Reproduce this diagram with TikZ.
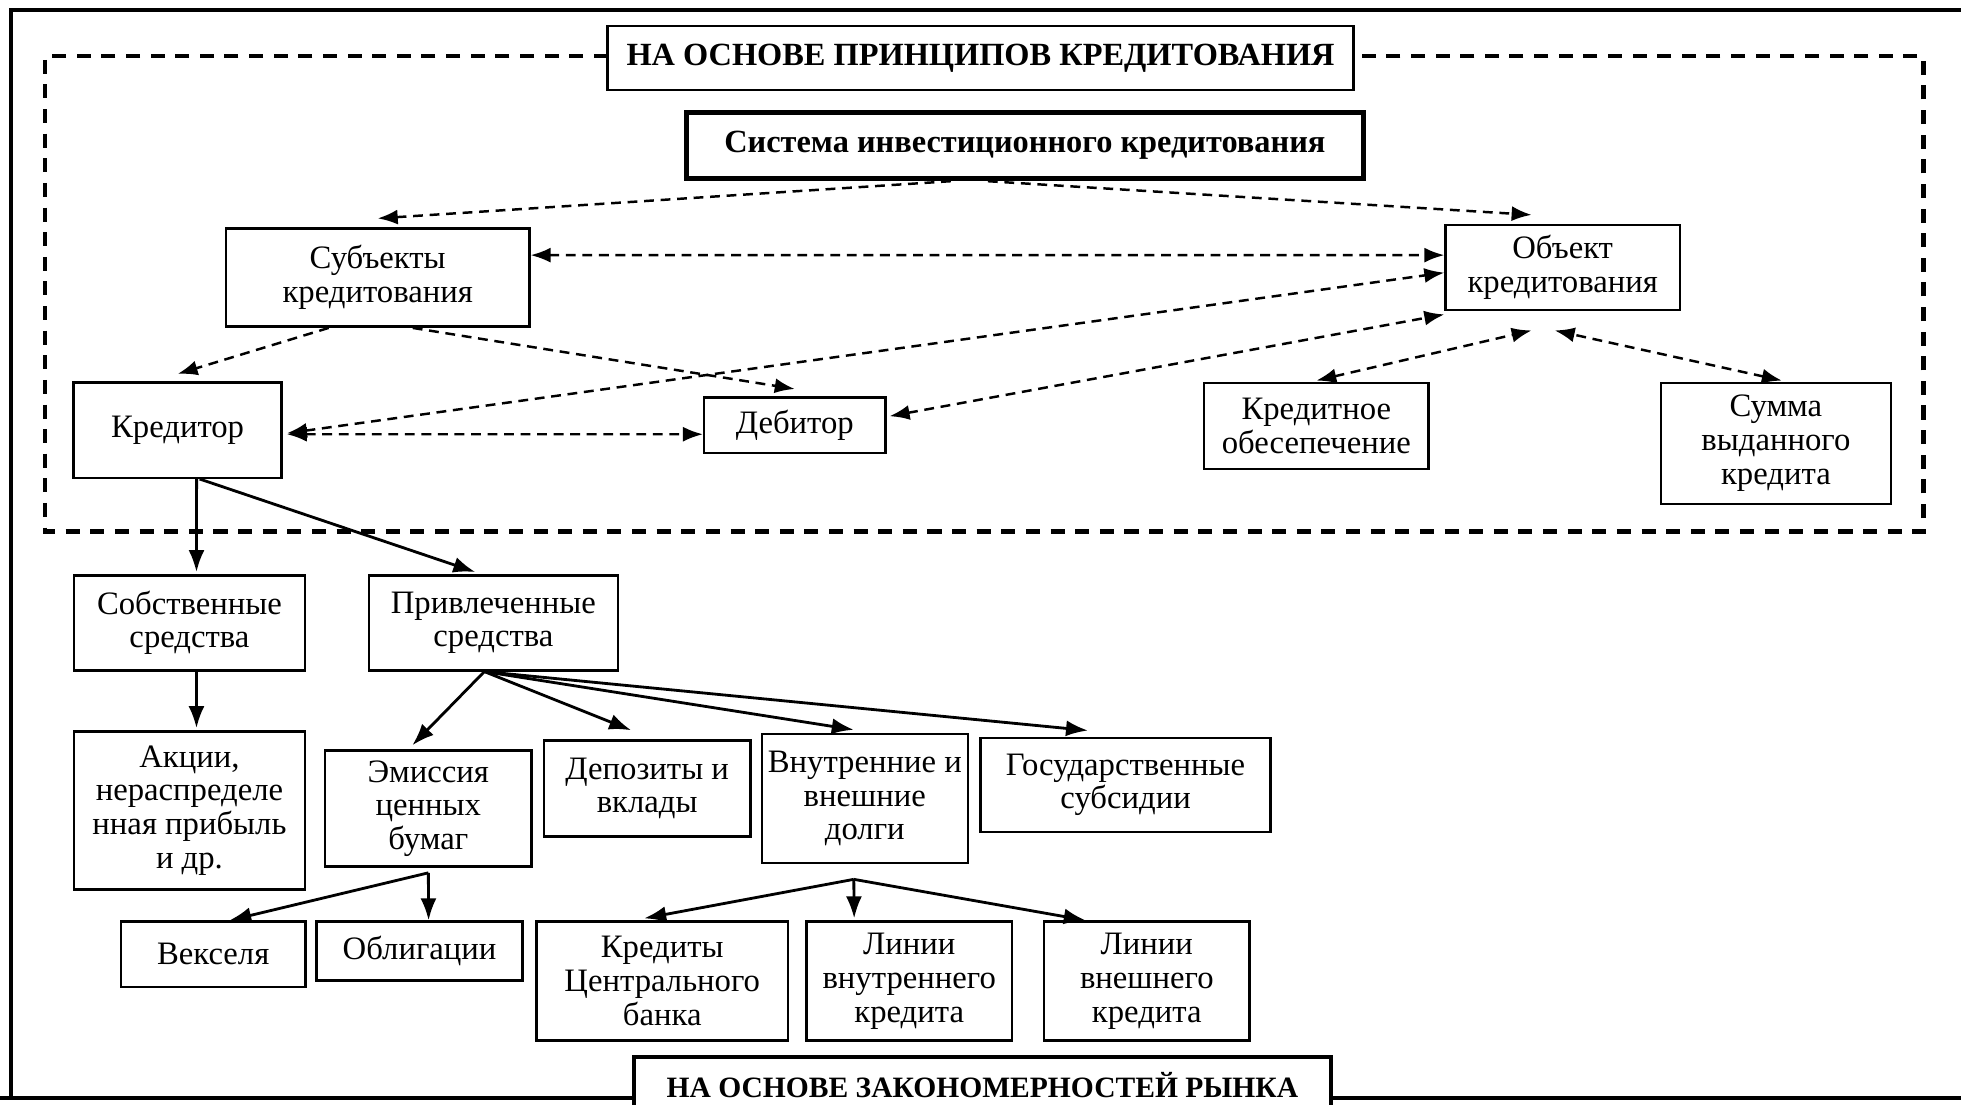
\documentclass[tikz,border=0pt]{standalone}
\usepackage{fontspec}
\setmainfont{Liberation Serif}
\usetikzlibrary{arrows.meta}

\begin{document}
\begin{tikzpicture}[x=0.0125cm, y=-0.0125cm,
    every node/.style = {font=\fontsize{9.3}{9.6}\selectfont, align=center, inner sep=1pt},
    box/.style = {draw, line width=0.7pt},
    headbox/.style = {box, font=\fontsize{9.2}{9.6}\selectfont\bfseries},
    frame/.style = {line width=1pt},
    zone/.style = {line width=1.2pt, dash pattern=on 4pt off 3pt},
    link/.style = {line width=0.7pt, dash pattern=on 2.8pt off 1.9pt,
                   -{Latex[length=2mm, width=1.5mm]}},
    twoway/.style = {link, {Latex[length=2mm, width=1.5mm]}-{Latex[length=2mm, width=1.5mm]}},
    flow/.style = {line width=0.8pt, -{Latex[length=2.2mm, width=1.6mm]}}]
  \useasboundingbox (0,0) rectangle (1568,883);

  % outer frame
  \draw[frame] (9,878) -- (9,8) -- (1568,8);
  \draw[frame, line width=1.3pt] (0,878) -- (507,878);
  \draw[frame, line width=1.3pt] (1064,878) -- (1568,878);

  % titles
  \node[headbox, minimum width=7.45cm, minimum height=0.64cm] (princ) at (784,46.5) {НА ОСНОВЕ ПРИНЦИПОВ КРЕДИТОВАНИЯ};
  \node[headbox, line width=1.1pt, font=\fontsize{8.4}{9}\selectfont\bfseries,
        minimum width=6.96cm, minimum height=0.56cm] (market) at (785.5,867.5) {НА ОСНОВЕ ЗАКОНОМЕРНОСТЕЙ РЫНКА};

  % dashed zone
  \draw[zone] (486,45) -- (36,45) -- (36,425) -- (1538,425) -- (1538,45) -- (1082,45);

  % upper part
  \node[headbox, line width=1.4pt, minimum width=6.76cm, minimum height=0.66cm] (sys) at (819.5,116.5) {Система инвестиционного кредитования};
  \node[box, minimum width=3.03cm, minimum height=0.98cm] (subj) at (302,222) {Субъекты\\кредитования};
  \node[box, minimum width=2.34cm, minimum height=0.85cm] (obj) at (1249.5,214) {Объект\\кредитования};
  \node[box, minimum width=2.08cm, minimum height=0.95cm] (kred) at (142,344) {Кредитор};
  \node[box, minimum width=1.81cm, minimum height=0.55cm] (deb) at (635.5,340) {Дебитор};
  \node[box, minimum width=2.24cm, minimum height=0.86cm] (obesp) at (1052.5,340.5) {Кредитное\\обесепечение};
  \node[box, minimum width=2.30cm, minimum height=1.21cm] (summa) at (1420,354.5) {Сумма\\выданного\\кредита};

  % sources
  \node[box, minimum width=2.31cm, minimum height=0.95cm] (own) at (151.5,498) {Собственные\\средства};
  \node[box, minimum width=2.49cm, minimum height=0.95cm] (raised) at (394.5,498) {Привлеченные\\средства};
  \node[box, minimum width=2.31cm, minimum height=1.58cm] (shares) at (151.5,648) {Акции,\\нераспределе\\нная прибыль\\и др.};
  \node[box, minimum width=2.06cm, minimum height=1.16cm] (emis) at (342.5,646.5) {Эмиссия\\ценных\\бумаг};
  \node[box, minimum width=2.06cm, minimum height=0.96cm] (depo) at (517.5,630.5) {Депозиты и\\вклады};
  \node[box, minimum width=2.06cm, minimum height=1.29cm] (debts) at (691.5,638.5) {Внутренние и\\внешние\\долги};
  \node[box, minimum width=2.90cm, minimum height=0.94cm] (subs) at (900,627.5) {Государственные\\субсидии};
  \node[box, minimum width=1.84cm, minimum height=0.65cm] (veks) at (170.5,763) {Векселя};
  \node[box, minimum width=2.06cm, minimum height=0.59cm] (oblig) at (335.5,760.5) {Облигации};
  \node[box, minimum width=2.51cm, minimum height=1.19cm] (cbank) at (529.5,784.5) {Кредиты\\Центрального\\банка};
  \node[box, minimum width=2.05cm, minimum height=1.19cm] (inner) at (727,784.5) {Линии\\внутреннего\\кредита};
  \node[box, minimum width=2.05cm, minimum height=1.19cm] (outer) at (917,784.5) {Линии\\внешнего\\кредита};

  % dashed links
  \draw[link] ([xshift=-0.74cm]sys.south) -- ([yshift=0.09cm]subj.north);
  \draw[link] ([xshift=-0.37cm]sys.south) -- ([xshift=-0.31cm, yshift=0.09cm]obj.north);
  \draw[twoway] ([yshift=0.225cm]subj.east) -- ([yshift=0.125cm]obj.west);
  \draw[twoway] ([xshift=0.04cm, yshift=-0.03cm]kred.east) -- ([yshift=-0.05cm]obj.west);
  \draw[twoway] ([xshift=0.04cm, yshift=-0.04cm]kred.east) -- ([yshift=-0.09cm]deb.west);
  \draw[twoway] ([xshift=0.03cm, yshift=0.09cm]deb.east) -- ([yshift=-0.03cm]obj.south west);
  \draw[link] ([xshift=-0.49cm]subj.south) -- ([yshift=0.075cm]kred.north);
  \draw[link] ([xshift=0.35cm]subj.south) -- ([yshift=0.075cm]deb.north);
  \draw[twoway] ([yshift=0.01cm]obesp.north) -- ([xshift=-0.31cm, yshift=-0.19cm]obj.south);
  \draw[twoway] ([xshift=0.06cm, yshift=0.01cm]summa.north) -- ([xshift=-0.08cm, yshift=-0.19cm]obj.south);

  % solid arrows
  \draw[flow] ([xshift=0.19cm]kred.south) -- ([xshift=0.07cm, yshift=0.02cm]own.north);
  \draw[flow] ([xshift=0.22cm]kred.south) -- ([xshift=-0.18cm, yshift=0.02cm]raised.north);
  \draw[flow] ([xshift=0.07cm]own.south) -- ([xshift=0.07cm, yshift=0.02cm]shares.north);
  \draw[flow] ([xshift=-0.09cm]raised.south) -- ([xshift=-0.16cm, yshift=0.04cm]emis.north);
  \draw[flow] ([xshift=-0.09cm]raised.south) -- ([xshift=-0.16cm, yshift=0.09cm]depo.north);
  \draw[flow] ([xshift=-0.09cm]raised.south) -- ([xshift=-0.11cm, yshift=0.03cm]debts.north);
  \draw[flow] ([xshift=-0.09cm]raised.south) -- ([xshift=-0.375cm, yshift=0.06cm]subs.north);
  \draw[flow] ([yshift=-0.05cm]emis.south) -- ([xshift=0.16cm]veks.north);
  \draw[flow] ([yshift=-0.05cm]emis.south) -- ([xshift=0.09cm]oblig.north);
  \draw[flow] ([xshift=-0.11cm, yshift=-0.15cm]debts.south) -- ([xshift=-0.18cm, yshift=0.02cm]cbank.north);
  \draw[flow] ([xshift=-0.11cm, yshift=-0.15cm]debts.south) -- ([xshift=-0.55cm, yshift=0.02cm]inner.north);
  \draw[flow] ([xshift=-0.11cm, yshift=-0.15cm]debts.south) -- ([xshift=-0.61cm]outer.north);
\end{tikzpicture}
\end{document}
